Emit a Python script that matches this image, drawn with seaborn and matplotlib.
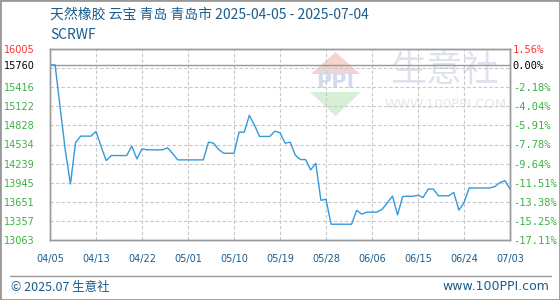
import numpy as np
import pandas as pd
import matplotlib
matplotlib.use("Agg")
import matplotlib.pyplot as plt
import seaborn as sns
from matplotlib.patches import Polygon, Rectangle
from matplotlib.lines import Line2D

# ---------------- data ----------------
start_date = "2025-04-05"
end_date = "2025-07-04"
prices = [
    15760, 15760, 15091, 14441, 13925, 14565, 14663, 14663, 14663, 14735,
    14503, 14286, 14364, 14364, 14364, 14364, 14508, 14313, 14467, 14452,
    14452, 14452, 14452, 14483, 14395, 14297, 14297, 14297, 14297, 14297,
    14297, 14570, 14554, 14457, 14399, 14399, 14399, 14724, 14724, 14983,
    14833, 14658, 14658, 14658, 14740, 14715, 14554, 14570, 14370, 14302,
    14302, 14142, 14245, 13675, 13690, 13306, 13306, 13306, 13306, 13306,
    13520, 13461, 13492, 13492, 13492, 13538, 13636, 13740, 13450, 13733,
    13737, 13737, 13752, 13718, 13848, 13848, 13744, 13744, 13744, 13795,
    13523, 13636, 13864, 13864, 13864, 13864, 13864, 13884, 13946, 13977,
    13848,
]
title = "天然橡胶 云宝 青岛 青岛市 2025-04-05 - 2025-07-04"
subtitle = "SCRWF"
x_tick_labels = ["04/05", "04/13", "04/22", "05/01", "05/10", "05/19",
                 "05/28", "06/06", "06/15", "06/24", "07/03"]
y_tick_values = [16005, 15760, 15416, 15122, 14828, 14534, 14239,
                 13945, 13651, 13357, 13063]
pct_labels = ["1.56%", "0.00%", "-2.18%", "-4.04%", "-5.91%", "-7.78%",
              "-9.64%", "-11.51%", "-13.38%", "-15.25%", "-17.11%"]
base_price = 15760
footer_left = "© 2025.07 生意社"
footer_right = "www.100PPI.com"

# ---------------- style ----------------
sns.set_theme(style="white")
plt.rcParams['font.family'] = ['Noto Sans CJK SC', 'DejaVu Sans']

BLUE_TXT = "#1a5c8c"
GREEN = "#3cb043"
RED = "#ff3333"
LINE = "#3399dd"
GRID = "#c8c8c8"
FRAME = "#999999"

dates = pd.date_range(start_date, end_date, freq="D")
df = pd.DataFrame({"day": (dates - dates[0]).days, "price": prices})

W, H = 560, 300
fig = plt.figure(figsize=(W / 100, H / 100), dpi=100)
fig.patch.set_facecolor("white")

def fx(x):
    return x / W

def fy(y):
    return 1 - y / H

ax = fig.add_axes([fx(50), fy(240), (510 - 50) / W, (240 - 49) / H])
ax.set_facecolor("white")

ymin, ymax = min(y_tick_values), max(y_tick_values)
xmax = int(df["day"].max())
ax.set_xlim(0, xmax)
ax.set_ylim(ymin, ymax)

# grid
for gy in np.linspace(ymin, ymax, 11)[1:-1]:
    ax.axhline(gy, color=GRID, lw=0.8, ls=(0, (3, 2)), zorder=1)
xt = np.linspace(0, xmax, len(x_tick_labels))
for gx in xt[1:-1]:
    ax.axvline(gx, color=GRID, lw=0.8, ls=(0, (3, 2)), zorder=1)
ax.axhline(base_price, color=FRAME, lw=1.0, zorder=2)

# watermark
wm = dict(transform=fig.transFigure, clip_on=False, zorder=0.5)
ax.add_patch(Polygon([(fx(311), fy(74)), (fx(360), fy(74)), (fx(335.5), fy(52))],
                     closed=True, fc="#f6d3cc", ec="none", **wm))
ax.add_patch(Polygon([(fx(310), fy(92)), (fx(361), fy(92)), (fx(335.5), fy(116))],
                     closed=True, fc="#d6efd6", ec="none", **wm))
ax.text(fx(335.5), fy(82), "PPI", ha="center", va="center", fontsize=15,
        fontweight="bold", color="#d3dbee", family=["DejaVu Sans"], **wm)
ax.text(fx(444), fy(71), "生意社", ha="center", va="center", fontsize=26,
        color="#dde2ec", **wm)
ax.text(fx(446), fy(105), "WWW.100PPI.COM", ha="center", va="center",
        fontsize=9.5, color="#e6e6e6", family=["DejaVu Sans"], **wm)

# main line
sns.lineplot(data=df, x="day", y="price", ax=ax, color=LINE, linewidth=1.0,
             zorder=3)

# axes cosmetics
for s in ax.spines.values():
    s.set_color(FRAME)
    s.set_linewidth(1.0)
ax.set_xlabel("")
ax.set_ylabel("")
ax.set_xticks(xt)
ax.set_xticklabels(x_tick_labels, fontsize=7, color=BLUE_TXT,
                   family=["DejaVu Sans"])
ax.tick_params(axis="x", length=0, pad=10)

ax.set_yticks(y_tick_values)
ax.set_yticklabels([str(v) for v in y_tick_values], fontsize=7,
                   family=["DejaVu Sans"])
ax.tick_params(axis="y", length=0, pad=11)
for i, lab in enumerate(ax.get_yticklabels()):
    lab.set_color(RED if i == 0 else ("black" if i == 1 else GREEN))

ax2 = ax.twinx()
ax2.set_ylim(ymin, ymax)
ax2.set_yticks(y_tick_values)
ax2.set_yticklabels(pct_labels, fontsize=7.5, family=["DejaVu Sans Mono"])
ax2.tick_params(axis="y", length=0, pad=2)
for i, lab in enumerate(ax2.get_yticklabels()):
    lab.set_color(RED if i == 0 else ("black" if i == 1 else GREEN))
for s in ax2.spines.values():
    s.set_color(FRAME)
    s.set_linewidth(1.0)
ax2.grid(False)

# texts
fig.text(fx(50), fy(15), title, fontsize=10, color=BLUE_TXT, va="center",
         ha="left")
fig.text(fx(50), fy(35), subtitle, fontsize=10, color=BLUE_TXT, va="center",
         ha="left")
fig.add_artist(Line2D([fx(10), fx(551)], [fy(276), fy(276)], color=FRAME,
                      lw=1.0, transform=fig.transFigure))
fig.text(fx(11), fy(287), footer_left, fontsize=9, color=BLUE_TXT,
         va="center", ha="left")
fig.text(fx(549), fy(287), footer_right, fontsize=9, color=BLUE_TXT,
         va="center", ha="right", family=["DejaVu Sans"])
fig.add_artist(Rectangle((0, 0), 1, 1, transform=fig.transFigure, fill=False,
                         ec=FRAME, lw=2.0))

fig.savefig("out.png", dpi=100, facecolor="white")
